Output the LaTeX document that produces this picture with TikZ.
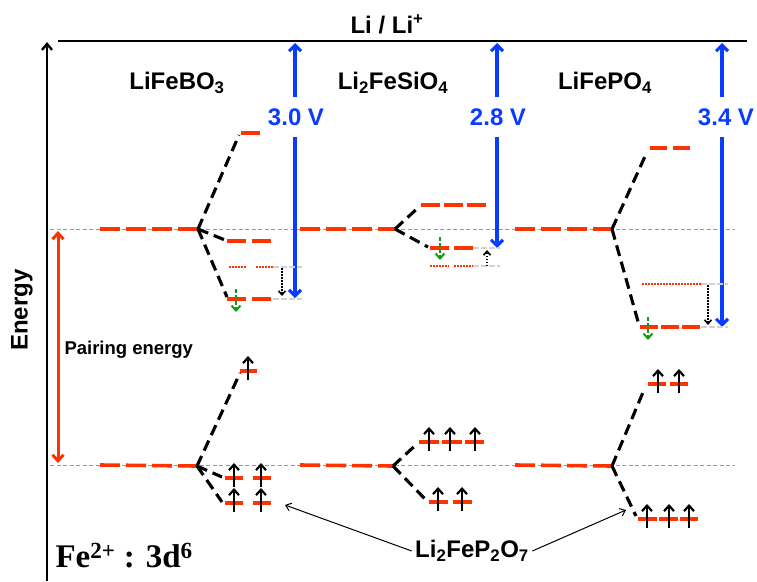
\documentclass[tikz,border=0pt]{standalone}
\usepackage{fontspec}
\setmainfont{Liberation Sans}
\newfontfamily\serifbold{Liberation Serif}
\usetikzlibrary{arrows.meta, calc}
\definecolor{LRed}{HTML}{FF3300}
\definecolor{VBlue}{HTML}{0A3CFF}
\definecolor{SGreen}{HTML}{129A12}
\definecolor{RGray}{HTML}{9A9A9A}
\definecolor{LGray}{HTML}{D2D2D2}
\NewDocumentCommand{\SpinUp}{O{(0,0)}}{
    \begin{scope}[shift={#1}]
    \draw[spin] (0,9) -- (0,-15);
    \end{scope}
}
\NewDocumentCommand{\SpinFlip}{O{(0,0)}}{
    \begin{scope}[shift={#1}]
    \draw[flip] (0,-10) -- (0,13);
    \end{scope}
}

\begin{document}
\begin{tikzpicture}[x=1pt, y=-1pt,
    level/.style={LRed, line width=3.6pt, dash pattern=on 19pt off 6pt},
    split/.style={black, line width=3.1pt, dash pattern=on 11pt off 6pt},
    refline/.style={RGray, line width=1pt, dash pattern=on 4pt off 2.5pt},
    guide/.style={LGray, line width=1.4pt, dash pattern=on 6pt off 2pt},
    exc/.style={LRed, line width=1.6pt, dash pattern=on 1.6pt off 1.4pt},
    volt/.style={VBlue, line width=3.1pt, -{Straight Barb[length=6pt, width=12pt]}},
    spin/.style={black, line width=2.2pt, -{Straight Barb[length=5.5pt, width=10pt]}},
    flip/.style={SGreen, line width=2pt, dash pattern=on 4pt off 2pt, -{Straight Barb[length=5pt, width=9pt]}},
    relax/.style={black, line width=1.6pt, dash pattern=on 1.5pt off 1.5pt, -{Straight Barb[length=4pt, width=7pt]}},
    lbl/.style={font=\fontsize{24}{24}\selectfont\bfseries},
    volttext/.style={lbl, text=VBlue, inner ysep=11pt}]
\useasboundingbox (0,0) rectangle (757,581);

% axes and reference
\coordinate (axis-bot) at (47,581);
\coordinate (axis-top) at (47,42);
\coordinate (li-left) at (58,41);
\coordinate (li-right) at (747,41);
\draw[black, line width=2.4pt, -{Straight Barb[length=6pt, width=10pt]}] (axis-bot) -- (axis-top);
\draw[black, line width=2.6pt] (li-left) -- (li-right);
\node[lbl] (li) at (387,24) {Li / Li\textsuperscript{+}};
\node[lbl, rotate=90] (energy) at (22,310) {Energy};

\draw[refline] (50,229) -- (735,229);
\draw[refline] (50,465) -- (735,465);

\coordinate (pair-top) at (58,231);
\coordinate (pair-bot) at (58,463);
\draw[LRed, line width=3pt, {Straight Barb[length=6pt, width=11pt]}-{Straight Barb[length=6pt, width=11pt]}] (pair-top) -- (pair-bot);
\node[anchor=west, font=\fontsize{18.5}{18.5}\selectfont\bfseries] (pairing) at (61,350) {Pairing energy};

% compound names
\node[lbl] (borate) at (177,83) {LiFeBO\textsubscript{3}};
\node[lbl] (silicate) at (393,83) {Li\textsubscript{2}FeSiO\textsubscript{4}};
\node[lbl] (phosphate) at (605,83) {LiFePO\textsubscript{4}};

% voltages
\node[volttext] (vB) at (296,117) {3.0 V};
\node[volttext] (vS) at (498,117) {2.8 V};
\node[volttext] (vP) at (726,117) {3.4 V};
\coordinate (vB-top) at (295,43);
\coordinate (vB-tip) at (295,298);
\coordinate (vS-top) at (497,43);
\coordinate (vS-tip) at (497,248);
\coordinate (vP-top) at (722,43);
\coordinate (vP-tip) at (722,327);
\draw[volt] (vB.south -| vB-top) -- (vB-tip);
\draw[volt] (vB.north -| vB-top) -- (vB-top);
\draw[volt] (vS.south -| vS-top) -- (vS-tip);
\draw[volt] (vS.north -| vS-top) -- (vS-top);
\draw[volt] (vP.south -| vP-top) -- (vP-tip);
\draw[volt] (vP.north -| vP-top) -- (vP-top);

% LiFeBO3
\begin{scope}[name prefix=B-]
    \coordinate (eg) at (198,229);
    \coordinate (t2g) at (197,466);
\end{scope}
\draw[level, dash pattern=on 20pt off 6pt] (100,229) -- (B-eg);
\draw[split] (B-eg) -- (239,135);
\draw[split] (B-eg) -- (225,240);
\draw[split] (B-eg) -- (227,297);
\draw[level] (241,133) -- (260,133);
\draw[level] (227,241) -- (272,241);
\draw[level] (227,299) -- (273,299);
\draw[exc] (229,267) -- (246,267);
\draw[exc] (256,267) -- (273,267);
\draw[guide] (273,267) -- (302,267);
\draw[guide] (273,299) -- (302,299);
\draw[relax] (282,268) -- (282,296);
\SpinFlip[(236,299)]

\draw[level, dash pattern=on 20pt off 6pt] (100,465) -- (B-t2g);
\draw[split] (B-t2g) -- (240,373);
\draw[split] (B-t2g) -- (222,477);
\draw[split] (B-t2g) -- (222,502);
\draw[level] (240,371) -- (257,371);
\draw[level, dash pattern=on 18pt off 10pt] (225,478) -- (271,478);
\draw[level, dash pattern=on 18pt off 10pt] (225,503) -- (271,503);
\SpinUp[(248,371)]
\foreach \x in {234,261} {
    \SpinUp[(\x,478)]
    \SpinUp[(\x,503)]
}

% Li2FeSiO4
\begin{scope}[name prefix=S-]
    \coordinate (eg) at (395,229);
    \coordinate (t2g) at (393,466);
\end{scope}
\draw[level, dash pattern=on 20pt off 6pt] (300,229) -- (S-eg);
\draw[split] (S-eg) -- (420,206);
\draw[split] (S-eg) -- (428,247);
\draw[level, dash pattern=on 19pt off 4pt] (421,205) -- (486,205);
\draw[level, dash pattern=on 19pt off 5pt] (430,248) -- (473,248);
\draw[exc] (430,266) -- (449,266);
\draw[exc] (454,266) -- (473,266);
\draw[guide] (473,248) -- (500,248);
\draw[guide] (473,266) -- (500,266);
\draw[relax] (487,266) -- (487,250);
\SpinFlip[(440,247)]

\draw[level, dash pattern=on 20pt off 6pt] (300,465) -- (S-t2g);
\draw[split] (S-t2g) -- (418,443);
\draw[split] (S-t2g) -- (427,501);
\draw[level, dash pattern=on 20pt off 3pt] (419,442) -- (484,442);
\draw[level, dash pattern=on 19pt off 5pt] (429,502) -- (472,502);
\foreach \x in {429,450,475} {
    \SpinUp[(\x,442)]
}
\foreach \x in {438,462} {
    \SpinUp[(\x,502)]
}

% LiFePO4
\begin{scope}[name prefix=P-]
    \coordinate (eg) at (612,229);
    \coordinate (t2g) at (612,466);
\end{scope}
\draw[level, dash pattern=on 20pt off 6pt] (515,229) -- (P-eg);
\draw[split] (P-eg) -- (647,152);
\draw[split] (P-eg) -- (639,325);
\draw[level, dash pattern=on 17pt off 6pt] (650,148) -- (690,148);
\draw[level, dash pattern=on 18pt off 3pt] (640,327) -- (701,327);
\draw[exc] (642,284) -- (701,284);
\draw[guide] (701,284) -- (728,284);
\draw[guide] (701,327) -- (728,327);
\draw[relax] (708,285) -- (708,325);
\SpinFlip[(648,327)]

\draw[level, dash pattern=on 20pt off 6pt] (515,465) -- (P-t2g);
\draw[split] (P-t2g) -- (644,390);
\draw[split] (P-t2g) -- (636,516);
\draw[level, dash pattern=on 18pt off 4pt] (648,384) -- (688,384);
\draw[level, dash pattern=on 19pt off 2pt] (638,519) -- (698,519);
\foreach \x in {658,679} {
    \SpinUp[(\x,384)]
}
\foreach \x in {647,669,689} {
    \SpinUp[(\x,519)]
}

% Li2FeP2O7 and configuration
\node[lbl] (pyro) at (472,551) {Li\textsubscript{2}FeP\textsubscript{2}O\textsubscript{7}};
\coordinate (pyro-B) at (285,505);
\coordinate (pyro-P) at (626,510);
\draw[black, line width=1pt, -{Straight Barb[length=5pt, width=8pt]}] (pyro.west) -- (pyro-B);
\draw[black, line width=1pt, -{Straight Barb[length=5pt, width=8pt]}] (pyro.east) -- (pyro-P);
\node[anchor=west, font=\serifbold\fontsize{33}{33}\selectfont\bfseries] (config) at (52,556) {Fe\textsuperscript{2+} : 3d\textsuperscript{6}};
\end{tikzpicture}
\end{document}
